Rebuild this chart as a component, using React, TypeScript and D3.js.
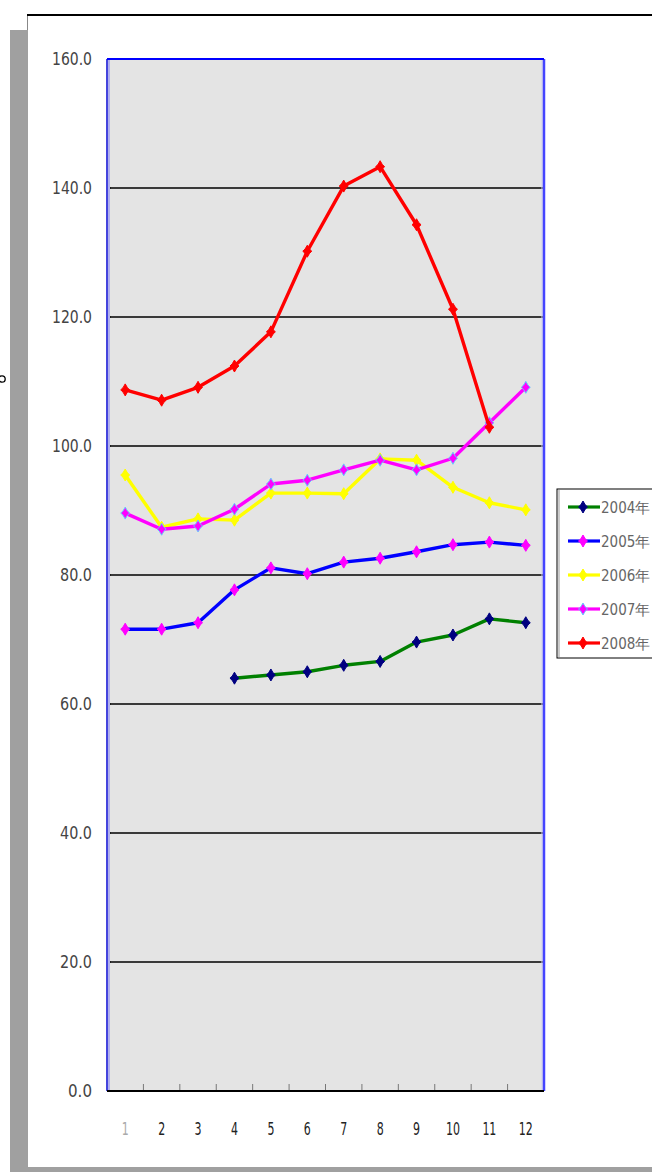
import React from 'react';
import * as d3 from 'd3';

// months on the x axis
const months = ['1', '2', '3', '4', '5', '6', '7', '8', '9', '10', '11', '12'];
const yTicks = [0, 20, 40, 60, 80, 100, 120, 140, 160];

// series values per month (null = no data)
const y2004 = [null, null, null, 64, 64.5, 65, 66, 66.6, 69.6, 70.7, 73.2, 72.6];
const y2005 = [71.6, 71.6, 72.6, 77.7, 81.1, 80.2, 82, 82.6, 83.6, 84.7, 85.1, 84.6];
const y2006 = [95.5, 87.4, 88.7, 88.5, 92.7, 92.7, 92.6, 98, 97.8, 93.6, 91.2, 90.1];
const y2007 = [89.6, 87.1, 87.6, 90.2, 94.1, 94.7, 96.3, 97.8, 96.3, 98.1, 103.6, 109.1];
const y2008 = [108.7, 107.1, 109.1, 112.4, 117.7, 130.2, 140.3, 143.3, 134.3, 121.2, 102.9, null];

const seriesNames = ['2004年', '2005年', '2006年', '2007年', '2008年'];
const seriesValues = [y2004, y2005, y2006, y2007, y2008];
const lineColors = ['#008000', '#0000ff', '#ffff00', '#ff00ff', '#ff0000'];
const markerColors = ['#000080', '#ff00ff', '#ffff00', '#ff00ff', '#ff0000'];
const markerEdges = ['#000080', '#ff00ff', '#ffff00', '#66ccff', '#ff0000'];

const W = 652;
const H = 1172;
const plot = { left: 107, right: 544, top: 59, bottom: 1091 };
const labelFont = '"Liberation Sans Narrow", "DejaVu Sans Condensed", "Arial Narrow", sans-serif';

function Marker({ x, y, fill, edge }: { x: number; y: number; fill: string; edge: string }) {
  // small cross-diamond marker like the old spreadsheet style
  const d = `M${x},${y - 6} L${x + 2.2},${y - 2.2} L${x + 4.5},${y} L${x + 2.2},${y + 2.2} L${x},${y + 6} L${x - 2.2},${y + 2.2} L${x - 4.5},${y} L${x - 2.2},${y - 2.2} Z`;
  return <path d={d} fill={fill} stroke={edge} strokeWidth={1} />;
}

export default function App() {
  const x = d3.scaleBand().domain(months).range([plot.left, plot.right]);
  const y = d3.scaleLinear().domain([0, 160]).range([plot.bottom, plot.top]);
  const cx = (m: string) => (x(m) as number) + x.bandwidth() / 2;

  const line = d3
    .line<number | null>()
    .defined((v) => v !== null)
    .x((_, i) => cx(months[i]))
    .y((v) => y(v as number));

  const legendTop = 489;
  const legendRowY = [507, 541, 575, 609, 643];

  return (
    <div style={{ position: 'absolute', left: 0, top: 0 }}>
      <svg width={W} height={H} style={{ display: 'block' }}>
        <rect x={0} y={0} width={W} height={H} fill="#fff" />
        {/* shadow of the chart frame */}
        <rect x={10} y={30} width={18} height={H - 30} fill="#a0a0a0" />
        <rect x={10} y={1167} width={W - 10} height={5} fill="#a0a0a0" />
        <line x1={27.5} y1={15} x2={27.5} y2={30} stroke="#888" strokeWidth={1} />
        <line x1={27} y1={15} x2={W} y2={15} stroke="#000" strokeWidth={2} />

        {/* stray mark at left edge */}
        <circle cx={2} cy={379} r={3.2} fill="none" stroke="#000" strokeWidth={1.3} />

        {/* plot area */}
        <rect x={plot.left} y={plot.top} width={plot.right - plot.left} height={plot.bottom - plot.top} fill="#e4e4e4" />
        {yTicks.filter((t) => t > 0 && t < 160).map((t) => (
          <line key={t} x1={plot.left} x2={plot.right} y1={y(t)} y2={y(t)} stroke="#000" strokeWidth={1.3} />
        ))}
        {yTicks.map((t) => (
          <line key={'yt' + t} x1={plot.left} x2={plot.left + 4} y1={y(t)} y2={y(t)} stroke="#000" strokeWidth={1} />
        ))}
        {months.slice(1).map((m) => (
          <line key={'xt' + m} x1={x(m)} x2={x(m)} y1={plot.bottom} y2={plot.bottom - 7} stroke="#777" strokeWidth={1} />
        ))}
        <line x1={plot.left + 2} x2={plot.left + 2} y1={plot.top} y2={plot.bottom} stroke="#b0b0ee" strokeWidth={2} />
        <line x1={plot.left} x2={plot.left} y1={plot.top} y2={plot.bottom} stroke="#4444dd" strokeWidth={2} />
        <line x1={plot.right - 2} x2={plot.right - 2} y1={plot.top} y2={plot.bottom} stroke="#d0d0ee" strokeWidth={1} />
        <line x1={plot.right} x2={plot.right} y1={plot.top} y2={plot.bottom} stroke="#4444ff" strokeWidth={2.5} />
        <line x1={plot.left} x2={plot.right} y1={plot.top} y2={plot.top} stroke="#0000ff" strokeWidth={2} />
        <line x1={plot.left} x2={plot.right} y1={plot.bottom} y2={plot.bottom} stroke="#000" strokeWidth={2} />

        {/* y labels */}
        {yTicks.map((t) => (
          <text key={'yl' + t} x={92} y={y(t) + 6} textAnchor="end" fontSize={17} fontFamily={labelFont} fill="#444"
            textLength={t.toFixed(1).length * 8} lengthAdjust="spacingAndGlyphs">
            {t.toFixed(1)}
          </text>
        ))}
        {/* x labels */}
        {months.map((m) => (
          <text key={'xl' + m} x={cx(m)} y={1135} textAnchor="middle" fontSize={18} fontFamily={labelFont} fill={m === '1' ? '#aaa' : '#222'}
            textLength={m.length * 7} lengthAdjust="spacingAndGlyphs">
            {m}
          </text>
        ))}

        {/* series */}
        {seriesValues.map((vals, s) => (
          <g key={seriesNames[s]}>
            <path d={line(vals) || ''} fill="none" stroke={lineColors[s]} strokeWidth={3.4} strokeLinejoin="round" />
            {vals.map((v, i) =>
              v === null ? null : (
                <Marker key={i} x={cx(months[i])} y={y(v)} fill={markerColors[s]} edge={markerEdges[s]} />
              )
            )}
          </g>
        ))}

        {/* legend */}
        <rect x={557} y={legendTop} width={W} height={169} fill="#fff" stroke="#000" strokeWidth={1} />
        <line x1={559} x2={559} y1={legendTop + 1} y2={legendTop + 168} stroke="#bbb" strokeWidth={1.5} />
        {seriesNames.map((name, s) => (
          <g key={'lg' + name}>
            <line x1={568} x2={600} y1={legendRowY[s]} y2={legendRowY[s]} stroke={lineColors[s]} strokeWidth={3.2} />
            <Marker x={583} y={legendRowY[s]} fill={markerColors[s]} edge={markerEdges[s]} />
            <text x={601} y={legendRowY[s] + 6} fontSize={15} fontFamily={labelFont} fill="#666">
              {name}
            </text>
          </g>
        ))}
      </svg>
    </div>
  );
}
